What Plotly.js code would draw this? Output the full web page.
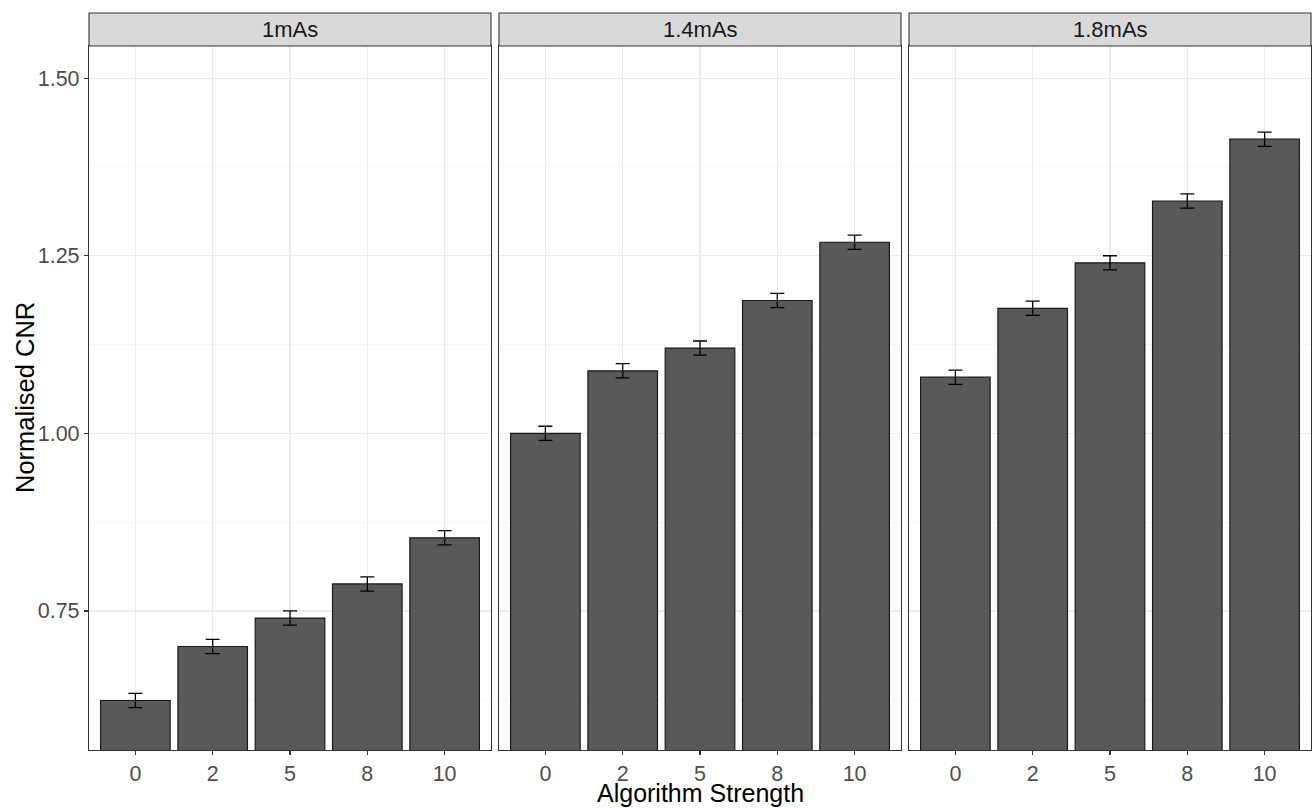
<!DOCTYPE html>
<html>
<head>
<meta charset="utf-8">
<script src="https://cdn.plot.ly/plotly-3.0.1.min.js"></script>
<style>
  html, body { margin: 0; padding: 0; background: #ffffff; }
  #chart { width: 1313px; height: 808px; }
</style>
</head>
<body>
<div id="chart"></div>
<script>
// ---- Data ----
const strengths = ['0', '2', '5', '8', '10'];
const panels = ['1mAs', '1.4mAs', '1.8mAs'];
const cnr_1mAs   = [0.624, 0.700, 0.740, 0.788, 0.853];
const cnr_1_4mAs = [1.000, 1.088, 1.120, 1.187, 1.269];
const cnr_1_8mAs = [1.079, 1.176, 1.240, 1.327, 1.414];
const err_1mAs   = [0.010, 0.010, 0.010, 0.010, 0.010];
const err_1_4mAs = [0.010, 0.010, 0.010, 0.010, 0.010];
const err_1_8mAs = [0.010, 0.010, 0.010, 0.010, 0.010];
const yTicks = [0.75, 1.00, 1.25, 1.50];
const yTickText = ['0.75', '1.00', '1.25', '1.50'];
const xTitle = 'Algorithm Strength';
const yTitle = 'Normalised CNR';

const seriesValues = [cnr_1mAs, cnr_1_4mAs, cnr_1_8mAs];
const seriesErrors = [err_1mAs, err_1_4mAs, err_1_8mAs];

// ---- Layout geometry ----
const W = 1313, H = 808;
const mL = 89, mR = 2, mT = 46, mB = 58;
const plotW = W - mL - mR, plotH = H - mT - mB;
const panelPx = [[89, 491], [499, 901], [909, 1311]];
const toPaperX = px => (px - mL) / plotW;
const toPaperY = py => (H - mB - py) / plotH;

const axisSuffix = ['', '2', '3'];
const traces = seriesValues.map((vals, i) => ({
  type: 'bar',
  x: strengths,
  y: vals,
  xaxis: 'x' + axisSuffix[i],
  yaxis: 'y' + axisSuffix[i],
  width: 0.9,
  marker: { color: '#595959', line: { color: '#1a1a1a', width: 1.2 } },
  error_y: { type: 'data', array: seriesErrors[i], visible: true, color: '#000000', thickness: 1.3, width: 7 },
  showlegend: false,
  hoverinfo: 'x+y'
}));

const FAM = 'Liberation Sans, Arial, sans-serif';
const tickFont = { family: FAM, size: 21.5, color: '#4D4D4D' };
const yRange = [0.5543, 1.5452];

function xAxis(i) {
  return {
    domain: [toPaperX(panelPx[i][0]), toPaperX(panelPx[i][1])],
    anchor: 'y' + axisSuffix[i],
    type: 'category',
    categoryorder: 'array',
    categoryarray: strengths,
    range: [-0.6, 4.6],
    showgrid: true, gridcolor: '#EBEBEB', gridwidth: 1.1,
    showline: true, mirror: true, linecolor: '#333333', linewidth: 1.1,
    ticks: 'outside', ticklen: 4, tickcolor: '#333333', tickwidth: 1.1,
    tickfont: tickFont,
    zeroline: false,
    fixedrange: true
  };
}
function yAxis(i) {
  const ax = {
    domain: [0, 1],
    anchor: 'x' + axisSuffix[i],
    range: yRange,
    tickvals: yTicks,
    ticktext: yTickText,
    showgrid: true, gridcolor: '#EBEBEB', gridwidth: 1.1,
    minor: { tickvals: [0.625, 0.875, 1.125, 1.375], showgrid: true, gridcolor: '#F5F5F5', gridwidth: 0.8, ticks: '' },
    showline: true, mirror: true, linecolor: '#333333', linewidth: 1.1,
    ticks: i === 0 ? 'outside' : '', ticklen: 4, tickcolor: '#333333', tickwidth: 1.1,
    showticklabels: i === 0,
    tickfont: tickFont,
    zeroline: false,
    fixedrange: true
  };
  if (i > 0) ax.matches = 'y';
  return ax;
}

const stripTop = 13, stripBot = 46;
const shapes = panelPx.map(p => ({
  type: 'rect', xref: 'paper', yref: 'paper',
  x0: toPaperX(p[0]), x1: toPaperX(p[1]),
  y0: toPaperY(stripBot), y1: toPaperY(stripTop),
  fillcolor: '#D9D9D9', line: { color: '#333333', width: 1.1 }, layer: 'above'
}));

const annotations = panels.map((name, i) => ({
  text: name, xref: 'paper', yref: 'paper',
  x: toPaperX((panelPx[i][0] + panelPx[i][1]) / 2),
  y: toPaperY((stripTop + stripBot) / 2),
  xanchor: 'center', yanchor: 'middle', showarrow: false,
  font: { family: FAM, size: 22, color: '#1A1A1A' }
}));
annotations.push({
  text: xTitle, xref: 'paper', yref: 'paper',
  x: toPaperX(700), y: toPaperY(793),
  xanchor: 'center', yanchor: 'middle', showarrow: false,
  font: { family: FAM, size: 25, color: '#000000' }
});
annotations.push({
  text: yTitle, xref: 'paper', yref: 'paper',
  x: toPaperX(25), y: toPaperY(398), textangle: -90,
  xanchor: 'center', yanchor: 'middle', showarrow: false,
  font: { family: FAM, size: 25.5, color: '#000000' }
});

const layout = {
  width: W, height: H,
  margin: { l: mL, r: mR, t: mT, b: mB, pad: 0 },
  paper_bgcolor: '#FFFFFF', plot_bgcolor: '#FFFFFF',
  bargap: 0.1,
  xaxis: xAxis(0), xaxis2: xAxis(1), xaxis3: xAxis(2),
  yaxis: yAxis(0), yaxis2: yAxis(1), yaxis3: yAxis(2),
  shapes: shapes,
  annotations: annotations,
  showlegend: false
};

Plotly.newPlot('chart', traces, layout, { displayModeBar: false, staticPlot: true });
</script>
</body>
</html>
